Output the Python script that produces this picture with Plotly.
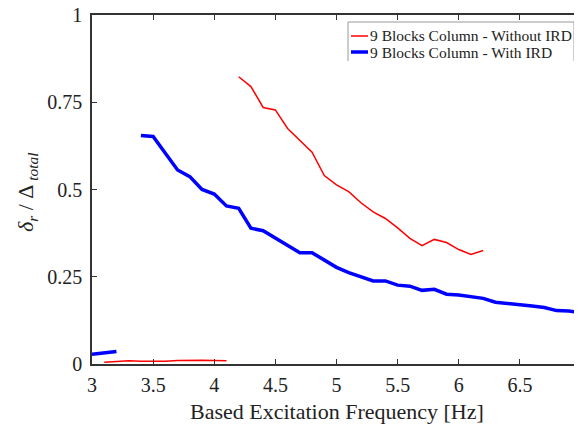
import plotly.graph_objects as go

# Without IRD (red) - low segment and main segment separated by a gap
red_x_low = [3.1, 3.2, 3.3, 3.4, 3.5, 3.6, 3.7, 3.8, 3.9, 4.0, 4.1]
red_y_low = [0.005, 0.008, 0.009, 0.008, 0.007, 0.008, 0.010, 0.011, 0.011, 0.010, 0.009]
red_x = [4.2, 4.3, 4.4, 4.5, 4.6, 4.7, 4.8, 4.9, 5.0, 5.1, 5.2, 5.3, 5.4, 5.5,
         5.6, 5.7, 5.8, 5.9, 6.0, 6.1, 6.2]
red_y = [0.823, 0.795, 0.735, 0.728, 0.675, 0.642, 0.607, 0.540, 0.513, 0.494,
         0.462, 0.436, 0.417, 0.390, 0.360, 0.339, 0.357, 0.348, 0.328, 0.314, 0.325]

# With IRD (blue)
blue_x_low = [3.0, 3.1, 3.2]
blue_y_low = [0.028, 0.032, 0.036]
blue_x = [3.4, 3.5, 3.6, 3.7, 3.8, 3.9, 4.0, 4.1, 4.2, 4.3, 4.4, 4.5, 4.6, 4.7,
          4.8, 4.9, 5.0, 5.1, 5.2, 5.3, 5.4, 5.5, 5.6, 5.7, 5.8, 5.9, 6.0, 6.1,
          6.2, 6.3, 6.4, 6.5, 6.6, 6.7, 6.8, 6.9, 7.0]
blue_y = [0.655, 0.652, 0.604, 0.556, 0.537, 0.500, 0.487, 0.453, 0.446, 0.389,
          0.382, 0.361, 0.338, 0.319, 0.319, 0.298, 0.277, 0.262, 0.249, 0.238,
          0.238, 0.226, 0.223, 0.211, 0.214, 0.200, 0.198, 0.193, 0.188, 0.177,
          0.174, 0.169, 0.166, 0.162, 0.153, 0.152, 0.147]

x_ticks = [3, 3.5, 4, 4.5, 5, 5.5, 6, 6.5, 7]
x_tick_labels = ["3", "3.5", "4", "4.5", "5", "5.5", "6", "6.5", "7"]
y_ticks = [0, 0.25, 0.5, 0.75, 1]
y_tick_labels = ["0", "0.25", "0.5", "0.75", "1"]

names = ["9 Blocks Column - Without IRD", "9 Blocks Column - With IRD"]
colors = ["#ff0000", "#0000ff"]
widths = [1.5, 3.5]
x_title = "Based Excitation Frequency [Hz]"
y_title = "<i>δ</i><sub><i>r</i></sub> / Δ<sub><i> total</i></sub>"

fig = go.Figure()
fig.add_trace(go.Scatter(
    x=red_x_low + [None] + red_x, y=red_y_low + [None] + red_y,
    mode="lines", name=names[0], line=dict(color=colors[0], width=widths[0]),
    connectgaps=False))
fig.add_trace(go.Scatter(
    x=blue_x_low + [None] + blue_x, y=blue_y_low + [None] + blue_y,
    mode="lines", name=names[1], line=dict(color=colors[1], width=widths[1]),
    connectgaps=False))

font_family = "Liberation Serif, Times New Roman, serif"
text_color = "#222222"
axis_common = dict(
    showline=True, linecolor="#333333", linewidth=1.5, mirror="ticks",
    ticks="inside", ticklen=5, tickwidth=1.2, tickcolor="#333333",
    showgrid=False, zeroline=False, automargin=False,
    ticklabeloverflow="allow",
    tickfont=dict(family=font_family, size=20, color=text_color),
)

# the page body has an 8px default margin; size the figure to the visible area
OFF = 8
W, H = 582 - OFF, 424 - OFF
L, R, T, B = 92 - OFF, 1, 15 - OFF, 60
pw, ph = W - L - R, H - T - B


def px_x(sx):
    return (sx - OFF - L) / pw


def px_y(sy):
    return (H - B - (sy - OFF)) / ph


# legend drawn by hand (compact MATLAB-style box)
leg_left, leg_right, leg_top, leg_bottom = 348, 574, 22, 61
row_y = [36, 52]
shapes = []
border = dict(color="#999999", width=1)
for x0, y0, x1, y1 in [(leg_left, leg_top, leg_right, leg_top),
                       (leg_left, leg_top, leg_left, leg_bottom),
                       (leg_right, leg_top, leg_right, leg_bottom)]:
    shapes.append(dict(type="line", xref="paper", yref="paper",
                       x0=px_x(x0), y0=px_y(y0), x1=px_x(x1), y1=px_y(y1), line=border))
annotations = []
for i, name in enumerate(names):
    shapes.append(dict(type="line", xref="paper", yref="paper",
                       x0=px_x(351), x1=px_x(368), y0=px_y(row_y[i]), y1=px_y(row_y[i]),
                       line=dict(color=colors[i], width=widths[i])))
    annotations.append(dict(text=name, xref="paper", yref="paper",
                            x=px_x(368), y=px_y(row_y[i]), xanchor="left", yanchor="middle",
                            showarrow=False,
                            font=dict(family=font_family, size=15.5, color=text_color)))

annotations += [
    dict(text=x_title, xref="paper", yref="paper",
         x=px_x(337), y=px_y(411), xanchor="center", yanchor="middle",
         showarrow=False, font=dict(family=font_family, size=22, color=text_color)),
    dict(text=y_title, xref="paper", yref="paper", textangle=-90,
         x=px_x(27), y=px_y(192), xanchor="center", yanchor="middle",
         showarrow=False, font=dict(family=font_family, size=22, color=text_color)),
]

fig.update_layout(
    width=W, height=H,
    margin=dict(l=L, r=R, t=T, b=B, autoexpand=False),
    paper_bgcolor="white", plot_bgcolor="white",
    font=dict(family=font_family, color=text_color),
    xaxis=dict(range=[3, 7], tickvals=x_ticks, ticktext=x_tick_labels,
               ticklabelstandoff=2, **axis_common),
    yaxis=dict(range=[0, 1], tickvals=y_ticks, ticktext=y_tick_labels,
               ticklabelstandoff=4, **axis_common),
    showlegend=False,
    shapes=shapes,
    annotations=annotations,
)

fig.write_html("out.html")
